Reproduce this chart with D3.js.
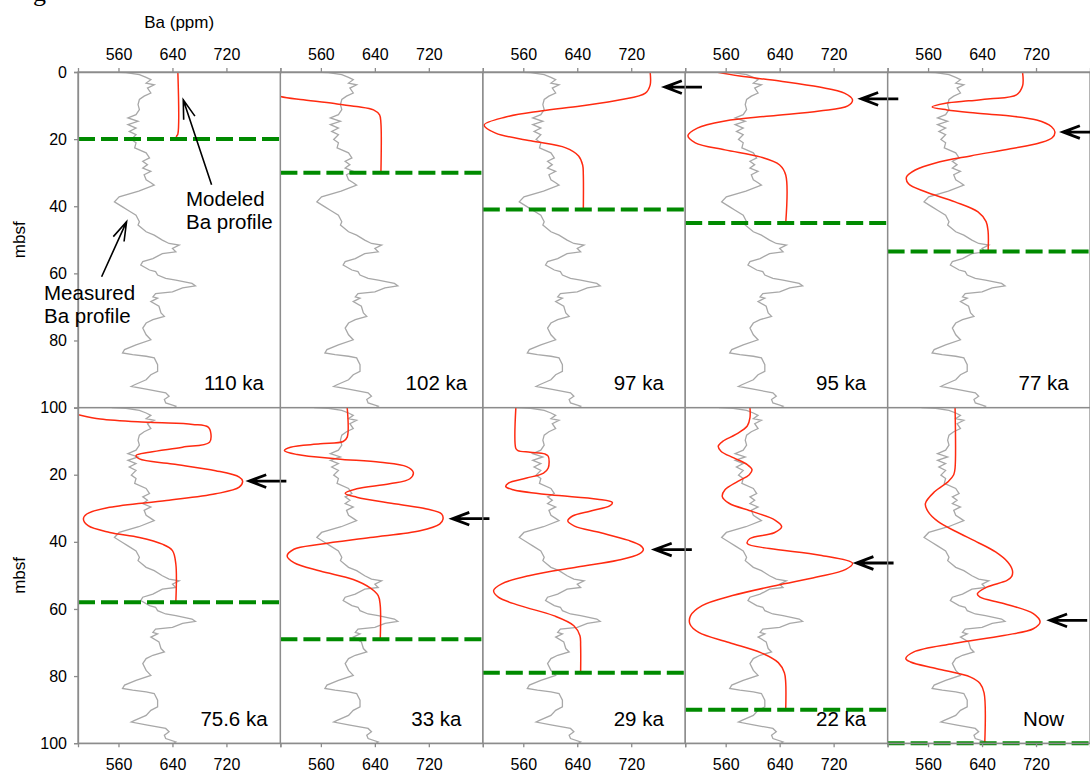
<!DOCTYPE html>
<html>
<head>
<meta charset="utf-8">
<script src="https://cdn.jsdelivr.net/npm/d3@7"></script>
<style>
    body { margin: 0; background: #fff; }
    svg text { font-family: "Liberation Sans", Arial, sans-serif; fill: #000; }
</style>
</head>
<body>
<svg id="chart" width="1090" height="778"></svg>
<script>
// measured Ba profile, [depth (mbsf), Ba (ppm)] - same in every panel
var measured = [
    [0, 550], [0.2, 571], [0.8, 591], [1.6, 601], [2.3, 608], [3.3, 601], [3.8, 613], [4.8, 603],
    [6.25, 608], [7.2, 598], [8.2, 591], [9.7, 589], [11.2, 591], [12.7, 586], [13.7, 574], [14.7, 589],
    [15.7, 574], [16.7, 586], [17.7, 576], [18.7, 586], [20.1, 579], [21.1, 586], [22.6, 584], [24.1, 601],
    [25.6, 606], [26.6, 596], [27.6, 603], [28.6, 596], [29.6, 608], [30.6, 598], [32.1, 601], [33.0, 608],
    [33.7, 613], [35.5, 590], [37.2, 561], [38.7, 554], [40.2, 566], [41.2, 574], [42.7, 586], [44.6, 591],
    [45.6, 589], [47.6, 601], [48.6, 613], [50.1, 625], [51.1, 635], [51.6, 650], [52.6, 640], [53.6, 645],
    [54.1, 625], [55.6, 611], [56.5, 596], [57.5, 593], [59.0, 606], [59.5, 615], [60.5, 618], [61.5, 630],
    [62.0, 645], [63.0, 669], [63.7, 674], [64.3, 655], [65.5, 640], [66.0, 615], [67.0, 611], [67.4, 618],
    [68.4, 608], [69.8, 620], [71.8, 623], [72.8, 628], [73.8, 611], [74.8, 601], [76.3, 596], [78.3, 601],
    [79.8, 608], [81.3, 586], [82.7, 569], [83.7, 566], [84.2, 581], [84.7, 601], [85.2, 613], [87.2, 618],
    [89.2, 618], [90.2, 608], [91.7, 601], [93.2, 584], [93.7, 579], [94.6, 603], [95.6, 630], [96.6, 635],
    [97.6, 628], [98.6, 630], [99.6, 645], [100, 642]
];

// modeled Ba profiles, [depth, Ba]
var model110 = [[0, 648], [18.5, 648], [19.2, 646], [20, 646]];
var model102 = [[0, 430], [3, 450], [5.5, 476], [7.3, 500], [8.3, 534], [9.5, 584], [10.3, 613],
    [11.3, 638], [12.8, 647], [15.3, 649], [30, 649]];
var model97 = [[0, 748], [3.9, 748], [6.3, 741], [8.3, 704], [10.1, 645], [11.6, 586], [13.4, 534],
    [15.8, 502], [18.2, 519], [20.5, 571], [22.6, 623], [25, 642], [27.7, 648], [30.7, 649], [41, 649]];
var model95 = [[0, 546], [1.2, 581], [2.7, 640], [4.5, 699], [6.3, 736], [8.3, 748], [10.1, 741],
    [11.6, 699], [13.1, 626], [14.6, 559], [16.7, 518], [19, 504], [21.1, 515], [23.2, 559], [25.3, 611],
    [27.7, 640], [30.7, 649], [45, 649]];
var model77 = [[0, 700], [4.2, 700], [6.8, 691], [8.0, 652], [8.6, 620], [9.3, 586], [10.4, 566],
    [11.3, 588], [12.2, 630], [12.9, 671], [14.3, 721], [16.3, 743], [17.9, 748], [19.6, 744], [21.1, 726],
    [22.9, 682], [25, 623], [27.1, 571], [29.2, 541], [31.3, 528], [33.3, 531], [35.7, 556], [38.7, 600],
    [41.7, 634], [44.6, 646], [47.6, 649], [53.5, 649]];
var model75 = [[0, 462], [1, 478], [2.1, 500], [3.4, 533], [4.4, 606], [5, 670], [5.8, 693], [7.8, 697],
    [10.3, 695], [11.8, 655], [13.3, 606], [14.3, 586], [15.3, 591], [16.8, 640], [18.8, 704], [20.7, 739],
    [21.9, 744], [23.7, 739], [25.7, 704], [27.7, 631], [29.7, 547], [31.7, 513], [33.2, 508], [35.2, 515],
    [37.2, 547], [38.7, 591], [40.7, 625], [42.6, 640], [46.6, 645], [58, 645]];
var model33 = [[0, 599], [8.8, 599], [10.1, 593], [10.8, 559], [11.8, 515], [12.8, 506], [14, 525],
    [15.3, 584], [16.3, 648], [17.6, 687], [19.3, 697], [21.2, 692], [22.7, 662], [24.2, 613], [25.5, 596],
    [26.7, 613], [28.7, 672], [30.2, 717], [31.7, 739], [33.2, 741], [34.7, 736], [36.7, 707], [38.7, 633],
    [40.7, 559], [42.2, 520], [44.2, 510], [46.2, 520], [48.7, 559], [51.2, 608], [53.7, 633], [56, 645],
    [59, 648], [69, 648]];
var model29 = [[0, 549], [12.2, 549], [12.8, 552], [13.3, 570], [13.8, 592], [14.5, 597], [18, 597],
    [19.5, 590], [21, 565], [22.5, 538], [23.5, 534], [24.5, 545], [26, 600], [27.3, 670], [28.3, 692],
    [29.3, 688], [30.8, 660], [32.3, 633], [33.8, 626], [35.3, 636], [37.3, 675], [39.5, 715], [41, 733],
    [42.3, 738], [43.6, 732], [45.5, 700], [47.5, 640], [50, 570], [52.5, 528], [54.5, 516], [56.5, 523],
    [59, 555], [62, 605], [65, 635], [68, 644], [71, 645], [79, 645]];
var model22 = [[0, 596], [3, 596], [5.5, 592], [8, 575], [10, 556], [11.5, 549], [13, 553], [15, 572],
    [17, 592], [18.5, 599], [20, 595], [22, 578], [24.5, 559], [26.5, 555], [28.5, 565], [31, 600],
    [33.5, 633], [35.5, 643], [37.3, 632], [39, 596], [40.5, 592], [42, 625], [44, 700], [46.4, 748],
    [48.2, 738], [50.5, 695], [53, 635], [56, 570], [59, 525], [62, 508], [64.5, 507], [67, 520],
    [70, 565], [73, 612], [76, 638], [79, 647], [82, 649], [90, 649]];
var modelNow = [[0, 600], [18, 600], [20, 598], [22, 590], [25, 570], [28.6, 556], [31, 560], [34, 575],
    [37, 602], [40, 632], [43, 660], [46, 678], [48.5, 685], [50.3, 684], [51.5, 677], [53.5, 647],
    [55.5, 633], [56.5, 637], [58.4, 672], [61.4, 716], [63.9, 726], [65.9, 716], [67.9, 672], [70.3, 598],
    [72.8, 539], [74.8, 527], [75.8, 534], [77.8, 573], [80.3, 623], [82.2, 637], [85, 643], [100, 644]];

var panelLabels = ['110 ka', '102 ka', '97 ka', '95 ka', '77 ka', '75.6 ka', '33 ka', '29 ka', '22 ka', 'Now'];
var models = [model110, model102, model97, model95, model77, model75, model33, model29, model22, modelNow];
// depth of the green dashed line in each panel (mbsf)
var baseDepths = [20, 30, 41, 45, 53.5, 58, 69, 79, 90, 100];
// black arrow tips [depth, Ba] (null = no arrow)
var arrowTips = [null, null, [4.5, 770], [8, 761], [17.9, 760], [21.9, 754], [33.1, 755], [42.3, 755], [46.3, 754], [63.4, 741]];
var xTicks = [560, 640, 720];
var yTicks = [0, 20, 40, 60, 80, 100];
var baDomain = [500, 800];
var depthDomain = [0, 100];

var svg = d3.select('#chart');
var ML = 78, PW = 202.4, T0 = 72, RH = 335.6;
var frameColor = '#8c8c8c';

function arrowPath(tx, ty, fx, fy, len, ang) {
    var a = Math.atan2(fy - ty, fx - tx);
    var p1 = [tx + len * Math.cos(a + ang), ty + len * Math.sin(a + ang)];
    var p2 = [tx + len * Math.cos(a - ang), ty + len * Math.sin(a - ang)];
    return 'M' + fx + ',' + fy + 'L' + tx + ',' + ty
        + 'M' + p1[0] + ',' + p1[1] + 'L' + tx + ',' + ty + 'L' + p2[0] + ',' + p2[1];
}

function styleAxis(g) {
    g.select('.domain').attr('stroke', frameColor).attr('stroke-width', 1.3);
    g.selectAll('.tick line').attr('stroke', frameColor).attr('stroke-width', 1.3);
    g.selectAll('.tick text').style('font-size', '16px').attr('fill', '#000');
}

var scales = [];

panelLabels.forEach(function (label, i) {
    var col = i % 5, row = Math.floor(i / 5);
    var left = ML + col * PW, top = T0 + row * RH;
    var x = d3.scaleLinear().domain(baDomain).range([left, left + PW]);
    var y = d3.scaleLinear().domain(depthDomain).range([top, top + RH]);
    scales.push({ x: x, y: y });

    svg.append('clipPath').attr('id', 'clip' + i)
        .append('rect').attr('x', left).attr('y', top).attr('width', PW).attr('height', RH);

    var line = d3.line().x(function (d) { return x(d[1]); }).y(function (d) { return y(d[0]); });
    var g = svg.append('g').attr('clip-path', 'url(#clip' + i + ')');

    g.append('path').datum(measured)
        .attr('d', line)
        .attr('fill', 'none').attr('stroke', '#a8a8a8').attr('stroke-width', 1.3);

    g.append('path').datum(models[i])
        .attr('d', line.curve(d3.curveCatmullRom.alpha(0.5)))
        .attr('fill', 'none').attr('stroke', '#ff2a10').attr('stroke-width', 1.5);

    svg.append('line')
        .attr('x1', left).attr('x2', left + PW)
        .attr('y1', y(baseDepths[i])).attr('y2', y(baseDepths[i]))
        .attr('stroke', '#008a00').attr('stroke-width', 4)
        .attr('stroke-dasharray', '17,6');

    svg.append('rect')
        .attr('x', left).attr('y', top).attr('width', PW).attr('height', RH)
        .attr('fill', 'none').attr('stroke', frameColor).attr('stroke-width', 1.3);

    if (row === 0) {
        svg.append('g').attr('transform', 'translate(0,' + top + ')')
            .call(d3.axisTop(x).tickValues(xTicks).tickSize(4).tickPadding(8))
            .call(styleAxis);
    } else {
        svg.append('g').attr('transform', 'translate(0,' + (top + RH) + ')')
            .call(d3.axisBottom(x).tickValues(xTicks).tickSize(4).tickPadding(11))
            .call(styleAxis);
    }

    if (col === 0) {
        svg.append('g').attr('transform', 'translate(' + left + ',0)')
            .call(d3.axisLeft(y).tickValues(row === 0 ? yTicks : yTicks.slice(1)).tickSize(4).tickPadding(7))
            .call(styleAxis);
        svg.append('text')
            .attr('transform', 'translate(25,' + (top + RH / 2) + ') rotate(-90)')
            .attr('text-anchor', 'middle')
            .style('font-size', '17px')
            .text('mbsf');
    }

    svg.append('text')
        .attr('x', left + 156).attr('y', top + 318)
        .attr('text-anchor', 'middle')
        .style('font-size', '20.5px')
        .text(label);

    var tip = arrowTips[i];
    if (tip) {
        var tx = x(tip[1]), ty = y(tip[0]);
        svg.append('path')
            .attr('d', arrowPath(tx, ty, tx + 37, ty, 18, 0.36))
            .attr('fill', 'none').attr('stroke', '#000').attr('stroke-width', 2.8);
    }
});

// axis title
svg.append('text')
    .attr('x', ML + PW / 2).attr('y', 28)
    .attr('text-anchor', 'middle')
    .style('font-size', '17px')
    .text('Ba (ppm)');

// fragment of the figure heading above the chart (cut by the top edge, as in the original)
svg.append('text')
    .attr('x', 33).attr('y', 1)
    .style('font-family', '"Liberation Serif", serif').style('font-size', '26px')
    .text('g');

// annotations in the first panel
var s0 = scales[0];
var notes = [
    { head: [8.3, 656], tail: [33.6, 698], lines: ['Modeled', 'Ba profile'], tx: 186, ty: 206 },
    { head: [44.6, 572], tail: [61, 535], lines: ['Measured', 'Ba profile'], tx: 44, ty: 300 }
];
notes.forEach(function (n) {
    svg.append('path')
        .attr('d', arrowPath(s0.x(n.head[1]), s0.y(n.head[0]), s0.x(n.tail[1]), s0.y(n.tail[0]), 20, 0.3))
        .attr('fill', 'none').attr('stroke', '#000').attr('stroke-width', 1.6);
    n.lines.forEach(function (t, k) {
        svg.append('text')
            .attr('x', n.tx).attr('y', n.ty + k * 23.3)
            .style('font-size', '20.5px')
            .text(t);
    });
});
</script>
</body>
</html>
